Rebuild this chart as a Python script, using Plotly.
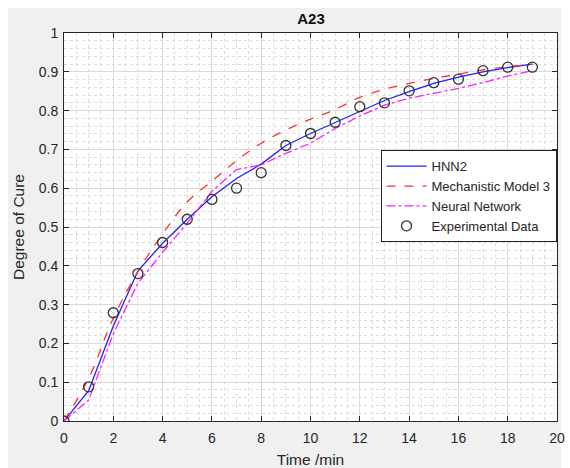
import plotly.graph_objects as go

time_min = list(range(20))
exp_data = [0, 0.088, 0.279, 0.38, 0.46, 0.52, 0.571, 0.60, 0.64, 0.71,
            0.741, 0.77, 0.81, 0.82, 0.851, 0.872, 0.881, 0.903, 0.912, 0.912]
hnn2 = [0, 0.078, 0.245, 0.387, 0.458, 0.52, 0.578, 0.625, 0.662, 0.71,
        0.741, 0.769, 0.798, 0.826, 0.849, 0.87, 0.886, 0.90, 0.911, 0.92]
mech3 = [0, 0.11, 0.265, 0.385, 0.482, 0.565, 0.618, 0.671, 0.716, 0.75,
         0.778, 0.803, 0.834, 0.855, 0.87, 0.883, 0.894, 0.905, 0.913, 0.919]
nn = [0, 0.054, 0.225, 0.355, 0.435, 0.51, 0.592, 0.648, 0.66, 0.69,
      0.716, 0.754, 0.786, 0.814, 0.832, 0.845, 0.857, 0.872, 0.889, 0.903]

FONT = "Liberation Sans, Arial, sans-serif"
TXT = "#262626"

W, H = 570, 468
L, R, T, B = 64, 13, 33, 47
PW, PH = W - L - R, H - T - B

fig = go.Figure()
fig.add_trace(go.Scatter(x=time_min, y=hnn2, mode="lines", name="HNN2",
                         line=dict(color="#2020ff", width=1.3)))
fig.add_trace(go.Scatter(x=time_min, y=mech3, mode="lines", name="Mechanistic Model 3",
                         line=dict(color="#ff3030", width=1.3, dash="dash", shape="spline")))
fig.add_trace(go.Scatter(x=time_min, y=nn, mode="lines", name="Neural Network",
                         line=dict(color="#ff20ff", width=1.3, dash="dashdot")))
fig.add_trace(go.Scatter(x=time_min, y=exp_data, mode="markers", name="Experimental Data",
                         marker=dict(symbol="circle-open", size=10, color="#333333",
                                     line=dict(width=1.3, color="#333333"))))

axis_common = dict(
    showline=True, linecolor=TXT, linewidth=1, mirror="allticks",
    ticks="inside", ticklen=5, tickcolor=TXT, tickwidth=1,
    showgrid=True, gridcolor="#dadada", gridwidth=1,
    zeroline=False,
    tickfont=dict(family=FONT, size=14, color=TXT),
)

fig.update_xaxes(range=[0, 20], dtick=2, tick0=0, ticklabelstandoff=4,
                 minor=dict(dtick=0.5, showgrid=True, gridcolor="#dcdcdc",
                            griddash="dot", gridwidth=0.8, ticks=""),
                 title=dict(text="Time /min", font=dict(family=FONT, size=15.5, color=TXT),
                            standoff=10),
                 **axis_common)
fig.update_yaxes(range=[0, 1], dtick=0.1, tick0=0, ticklabelstandoff=2,
                 minor=dict(dtick=0.02, showgrid=True, gridcolor="#dcdcdc",
                            griddash="dot", gridwidth=0.8, ticks=""),
                 title=dict(text="Degree of Cure", font=dict(family=FONT, size=15.5, color=TXT),
                            standoff=10),
                 **axis_common)

fig.add_shape(type="rect", xref="paper", yref="paper",
              x0=(8 - L) / PW, x1=(561 - L) / PW,
              y0=-B / PH, y1=(H - B - 8) / PH,
              fillcolor="#f0f0f0", line=dict(width=0), layer="below")
fig.add_shape(type="rect", xref="paper", yref="paper", x0=0, x1=1, y0=0, y1=1,
              fillcolor="white", line=dict(width=0), layer="below")

fig.update_layout(
    width=W, height=H,
    margin=dict(l=L, r=R, t=T, b=B, autoexpand=False),
    paper_bgcolor="white", plot_bgcolor="white",
    title=dict(text="<b>A23</b>", x=311 / W, xanchor="center", y=1 - 19 / H,
               yanchor="middle", font=dict(family=FONT, size=15, color="#111111")),
    legend=dict(x=0.999, xanchor="right", y=0.698, yanchor="top",
                bgcolor="white", bordercolor="#222222", borderwidth=1,
                font=dict(family=FONT, size=13, color=TXT),
                tracegroupgap=0, itemwidth=40),
    showlegend=True,
)

fig.write_html("out.html",
               config={"displayModeBar": False},
               post_script="document.body.style.margin='0px';"
                           "document.body.style.overflow='hidden';")
